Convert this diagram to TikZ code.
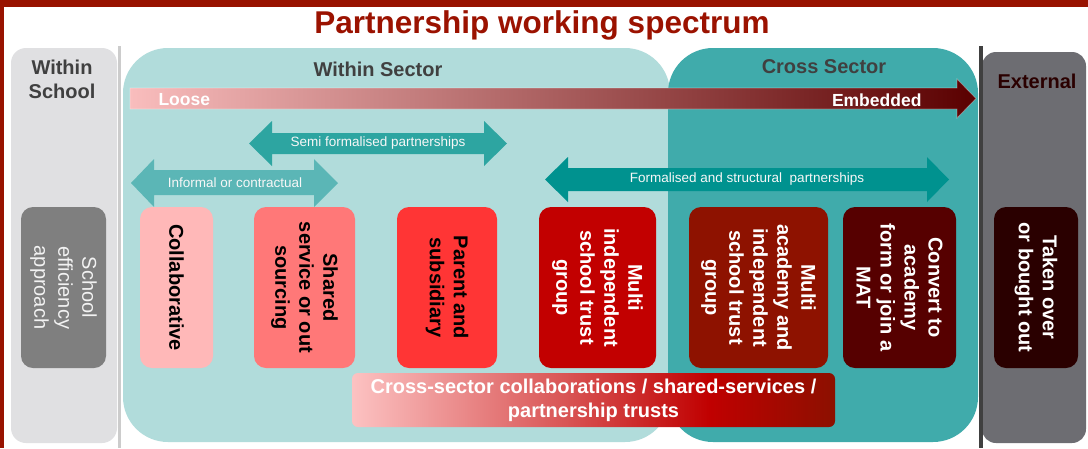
\documentclass[tikz,border=0pt]{standalone}
\usepackage{fontspec}
\setmainfont{Liberation Sans}
\usepackage{tikz}
\usetikzlibrary{shadings}
\definecolor{framered}{HTML}{981200}
\definecolor{titlered}{HTML}{9B1200}
\definecolor{headgrey}{HTML}{404040}
\definecolor{schoolpanel}{HTML}{E0E0E2}
\definecolor{sectorpanel}{HTML}{B1DCDB}
\definecolor{crosspanel}{HTML}{40ABAB}
\definecolor{externalpanel}{HTML}{6D6D72}
\definecolor{informalteal}{HTML}{5BB6B6}
\definecolor{semiteal}{HTML}{2DA5A1}
\definecolor{formalteal}{HTML}{00928F}
\definecolor{boxgrey}{HTML}{7F7F7F}
\definecolor{boxpink}{HTML}{FFB8B8}
\definecolor{boxsalmon}{HTML}{FF7878}
\definecolor{boxred}{HTML}{FF3535}
\definecolor{boxcrimson}{HTML}{C20000}
\definecolor{boxrust}{HTML}{8E1200}
\definecolor{boxmaroon}{HTML}{560000}
\definecolor{boxblack}{HTML}{2A0000}
\definecolor{looseA}{HTML}{F9BDBD}
\definecolor{looseB}{HTML}{B84646}
\definecolor{looseC}{HTML}{5A0000}
\definecolor{bannerA}{HTML}{FCC2C2}
\definecolor{bannerB}{HTML}{D95555}
\definecolor{bannerC}{HTML}{C00000}
\definecolor{bannerD}{HTML}{8C1000}
\pgfdeclarehorizontalshading{bannershade}{100bp}{color(0bp)=(bannerA); color(25bp)=(bannerA); color(47bp)=(bannerB); color(62bp)=(bannerC); color(75bp)=(bannerD); color(100bp)=(bannerD)}
\tikzset{
    heading/.style = {
        font = \fontsize{20}{24}\selectfont\bfseries,
        text = headgrey, align = center
    },
    typebox/.style = {
        rounded corners = 12pt, rotate = -90,
        minimum width = 161pt, inner sep = 0pt,
        align = center,
        font = \fontsize{20}{24}\selectfont\bfseries
    },
    arrowtext/.style = {
        font = \fontsize{13.5}{16}\selectfont,
        text = white!94!gray
    }
}
\begin{document}
\begin{tikzpicture}[x=1pt, y=-1pt]

    \useasboundingbox (0,0) rectangle (1088,448);
    \fill[white] (0,0) rectangle (1088,448);

    % Frame
    \fill[framered] (0,0) rectangle (1088,7);
    \fill[framered] (0,0) rectangle (4,448);

    % Title
    \node[anchor=base, text=titlered, font=\fontsize{31.5}{36}\selectfont\bfseries]
        (title) at (542,33) {Partnership working spectrum};

    % Panels
    \fill[schoolpanel, rounded corners=15pt] (11,48) rectangle (117,443);
    \fill[sectorpanel, rounded corners=45pt] (123,48) rectangle (670,442);
    \fill[crosspanel, rounded corners=45pt] (668,48) rectangle (978,442);
    \fill[externalpanel, rounded corners=14pt] (982,52) rectangle (1086,443);

    % Separators
    \fill[gray!40] (118,46) rectangle ++(3,402);
    \fill[headgrey] (979,46) rectangle ++(3.5,402);

    % Panel headings
    \node[heading] (withinschool) at (62,79) {Within\\School};
    \node[heading, anchor=base] (withinsector) at (378,76) {Within Sector};
    \node[heading, anchor=base] (crosssector) at (824,73) {Cross Sector};
    \node[heading, anchor=base, text=boxblack] (external) at (1037,88) {External};

    % Loose to embedded
    \shade[left color=looseA, middle color=looseB, right color=looseC,
           draw=white, draw opacity=0.35, line width=0.8pt]
        (130,88) -- (957,88) -- (957,79) -- (976,98.5) -- (957,118) -- (957,109) -- (130,109) -- cycle;
    \node[anchor=base west, text=white, font=\fontsize{17.5}{20}\selectfont\bfseries]
        (loose) at (155,105) {Loose};
    \node[anchor=base east, text=white, font=\fontsize{17.5}{20}\selectfont\bfseries]
        (embedded) at (925,106) {Embedded};

    % Semi formalised
    \fill[semiteal] (249,143.5) -- (272,121) -- (272,133) -- (484,133) -- (484,121)
        -- (507,143.5) -- (484,166) -- (484,154) -- (272,154) -- (272,166) -- cycle;
    \node[arrowtext] (semi) at (378,143.5) {Semi formalised partnerships};

    % Informal
    \fill[informalteal] (131,183) -- (154,159) -- (154,170) -- (314,170) -- (314,159)
        -- (338,183) -- (314,207) -- (314,195) -- (154,195) -- (154,207) -- cycle;
    \node[arrowtext] (informal) at (235,183) {Informal or contractual};

    % Formalised
    \fill[formalteal] (545,179.5) -- (568,157) -- (568,168) -- (927,168) -- (927,157)
        -- (949,179.5) -- (927,202) -- (927,191) -- (568,191) -- (568,202) -- cycle;
    \node[arrowtext] (formal) at (747,179.5) {Formalised and structural~ partnerships};

    % Types of partnership
    \node[typebox, fill=boxgrey, minimum height=85pt, text=white!90!gray,
          font=\fontsize{20}{24}\selectfont\mdseries]
        (efficiency) at (63.5,287.5) {School\\efficiency\\approach};
    \node[typebox, fill=boxpink, minimum height=73pt, text=black]
        (collaborative) at (176.5,287.5) {Collaborative};
    \node[typebox, fill=boxsalmon, minimum height=101pt, text=black]
        (shared) at (304.5,287.5) {Shared\\service or out\\sourcing};
    \node[typebox, fill=boxred, minimum height=100pt, text=black]
        (parent) at (447,287.5) {Parent and\\subsidiary};
    \node[typebox, fill=boxcrimson, minimum height=117pt, text=white]
        (multiind) at (597.5,287.5) {Multi\\independent\\school trust\\group};
    \node[typebox, fill=boxrust, minimum height=139pt, text=white]
        (multiacad) at (758.5,287.5) {Multi\\academy and\\independent\\school trust\\group};
    \node[typebox, fill=boxmaroon, minimum height=113pt, text=white]
        (convert) at (899.5,287.5) {Convert to\\academy\\form or join a\\MAT};
    \node[typebox, fill=boxblack, minimum height=84pt, text=white]
        (takenover) at (1036,287.5) {Taken over\\or bought out};

    % Cross-sector banner
    \node[shading=bannershade, rounded corners=6pt, minimum width=483pt, minimum height=54pt,
          inner sep=0pt, align=center, text=white, font=\fontsize{20}{24}\selectfont\bfseries]
        (banner) at (593.5,400) {Cross-sector collaborations / shared-services /\\partnership trusts};

\end{tikzpicture}
\end{document}
